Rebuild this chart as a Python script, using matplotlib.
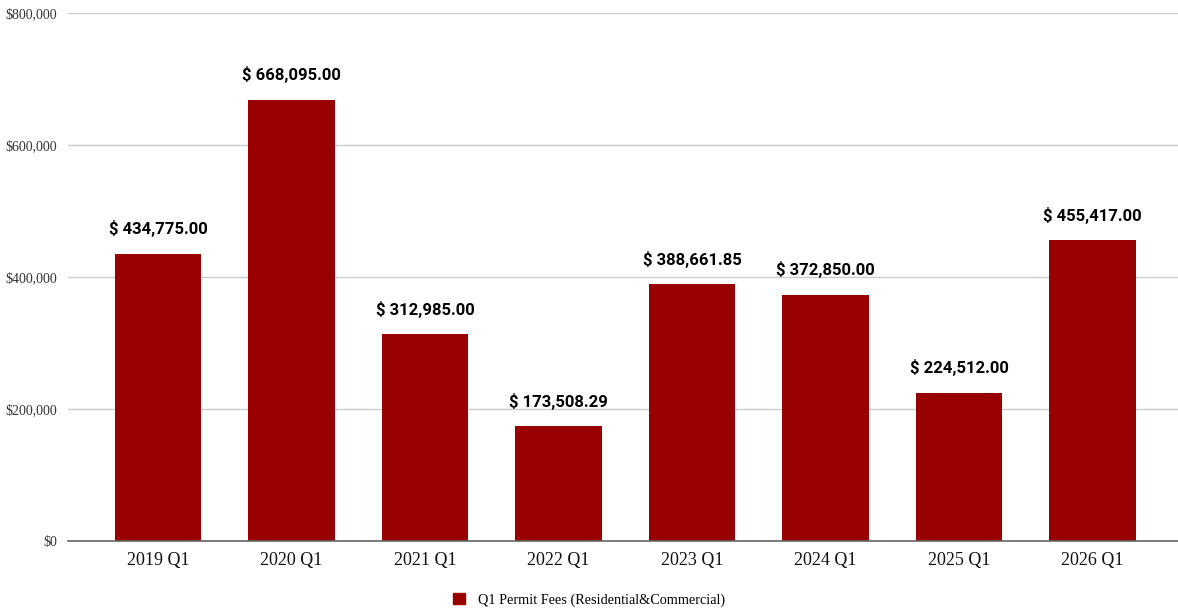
import matplotlib
matplotlib.use("Agg")
import matplotlib.pyplot as plt
from matplotlib.ticker import FuncFormatter
from matplotlib.patches import Patch

quarters = ["2019 Q1", "2020 Q1", "2021 Q1", "2022 Q1", "2023 Q1", "2024 Q1", "2025 Q1", "2026 Q1"]
fees = [434775.00, 668095.00, 312985.00, 173508.29, 388661.85, 372850.00, 224512.00, 455417.00]
series_name = "Q1 Permit Fees (Residential&Commercial)"
bar_color = "#990000"

fig = plt.figure(figsize=(11.78, 6.09), dpi=100)
ax = fig.add_axes([68 / 1178, 1 - 541 / 609, 1 - 68 / 1178, (541 - 13) / 609])

x = list(range(len(quarters)))
bars = ax.bar(x, fees, width=0.645, color=bar_color, zorder=3)

for xi, v in zip(x, fees):
    ax.annotate(f"$ {v:,.2f}", xy=(xi, v), xytext=(0, 12), textcoords="offset points",
                ha="center", va="bottom", fontsize=12, fontweight="bold",
                family="Roboto", color="#000000")

ax.set_xlim(-0.674, 7.64)
ax.set_ylim(0, 800000)
ax.set_yticks([0, 200000, 400000, 600000, 800000])
ax.yaxis.set_major_formatter(FuncFormatter(lambda v, p: f"${v:,.0f}"))
ax.set_xticks(x)
ax.set_xticklabels(quarters)

for lbl in ax.get_yticklabels():
    lbl.set_family("Liberation Serif")
    lbl.set_fontsize(10)
    lbl.set_color("#333333")
for lbl in ax.get_xticklabels():
    lbl.set_family("Liberation Serif")
    lbl.set_fontsize(13)
    lbl.set_color("#111111")

ax.tick_params(axis="both", length=0)
ax.tick_params(axis="y", pad=8)
ax.tick_params(axis="x", pad=8)
ax.grid(axis="y", color="#cccccc", linewidth=1, zorder=0)
for s in ["top", "right", "left"]:
    ax.spines[s].set_visible(False)
ax.spines["bottom"].set_color("#666666")
ax.spines["bottom"].set_linewidth(1.2)
ax.spines["bottom"].set_zorder(4)

handle = Patch(facecolor=bar_color, edgecolor=bar_color)
fig.legend([handle], [series_name], loc="lower center", bbox_to_anchor=(0.5, -0.018),
           frameon=False, prop={"family": "Liberation Serif", "size": 10.3},
           handlelength=0.8, handleheight=0.8, handletextpad=0.9)

fig.savefig("out.png", dpi=100)
